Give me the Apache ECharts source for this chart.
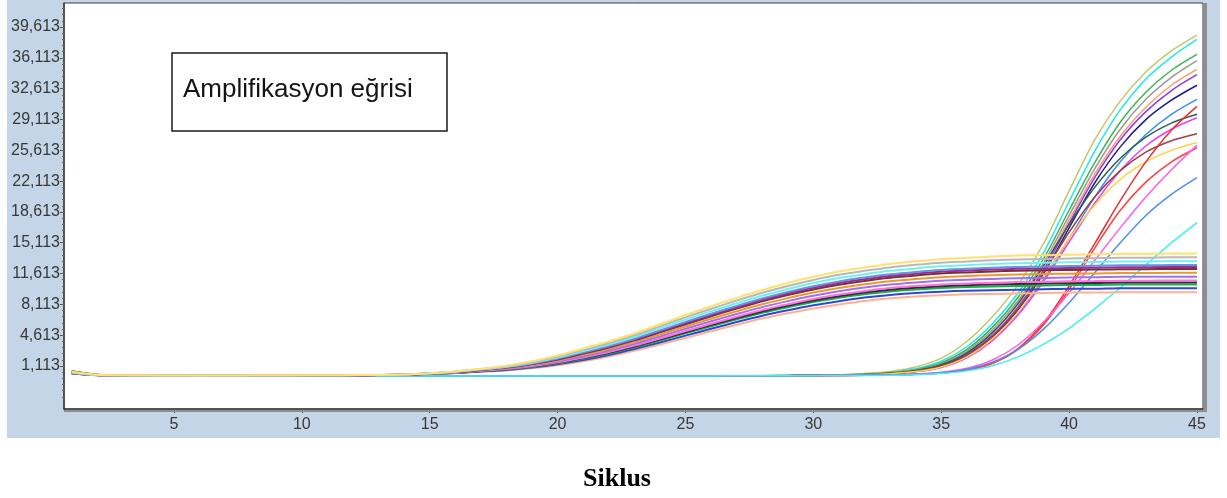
<!DOCTYPE html>
<html>
<head>
<meta charset="utf-8">
<script src="https://cdn.jsdelivr.net/npm/echarts@6/dist/echarts.min.js"></script>
<style>
  html, body { margin: 0; padding: 0; background: #ffffff; }
  #wrap { position: relative; width: 1227px; height: 498px; }
  #panel { position: absolute; left: 7px; top: 0; width: 1213px; height: 438px; background: #c3d5e6; }
  #chart { position: absolute; left: 0; top: 0; width: 1227px; height: 498px; }
</style>
</head>
<body>
<div id="wrap"><div id="panel"></div><div id="chart"></div></div>
<script>
// PCR cycle numbers (x axis)
const cycles = [1,2,3,4,5,6,7,8,9,10,11,12,13,14,15,16,17,18,19,20,21,22,23,24,25,26,27,28,29,30,31,32,33,34,35,36,37,38,39,40,41,42,43,44,45];

// Tick labels
const xTicks = [5,10,15,20,25,30,35,40,45];
const yTicks = [1113,4613,8113,11613,15113,18613,22113,25613,29113,32613,36113,39613];

// Fluorescence, early-rising curves (plateau around 9.5k–13.9k)
const aGold    = [450,110,60,50,40,40,40,50,50,60,70,80,100,150,300,500,800,1150,1650,2300,3100,3900,4800,5850,6900,7900,8850,9750,10550,11250,11850,12300,12700,13000,13250,13400,13550,13650,13700,13750,13800,13850,13850,13900,13900];
const aGrey    = [420,100,50,40,40,30,30,40,40,50,60,80,100,150,290,480,765,1095,1570,2190,2955,3730,4605,5620,6640,7615,8545,9425,10205,10890,11475,11920,12310,12600,12840,12985,13125,13220,13270,13320,13365,13415,13415,13460,13460];
const aCyan    = [380,90,50,40,30,30,30,40,40,50,60,70,90,144,280,460,730,1040,1490,2080,2810,3560,4410,5390,6380,7330,8240,9100,9860,10530,11100,11540,11920,12200,12430,12570,12700,12790,12840,12890,12930,12980,12980,13020,13020];
const aSteel   = [350,90,40,30,30,20,30,30,40,40,50,70,90,141,270,440,695,985,1410,1970,2665,3390,4215,5160,6120,7045,7935,8775,9515,10170,10725,11160,11530,11800,12020,12155,12275,12360,12410,12460,12495,12545,12545,12580,12580];
const aPlum    = [330,80,40,30,20,20,30,30,40,40,50,60,80,140,265,430,678,958,1370,1915,2593,3305,4118,5045,5990,6903,7783,8613,9343,9990,10538,10970,11335,11600,11815,11948,12063,12145,12195,12245,12278,12328,12328,12360,12360];
const aMaroon  = [500,120,60,40,40,30,40,40,50,50,60,80,100,138,260,420,660,930,1330,1860,2520,3220,4020,4930,5860,6760,7630,8450,9170,9810,10350,10780,11140,11400,11610,11740,11850,11930,11980,12030,12060,12110,12110,12140,12140];
const aOrange  = [560,130,60,50,40,40,40,50,50,60,70,80,100,135,250,400,625,875,1250,1750,2375,3050,3825,4700,5600,6475,7325,8125,8825,9450,9975,10400,10750,11000,11200,11325,11425,11500,11550,11600,11625,11675,11675,11700,11700];
const aPurple  = [300,80,40,30,20,20,20,30,30,40,50,60,80,132,240,380,590,820,1170,1640,2230,2880,3630,4470,5340,6190,7020,7800,8480,9090,9600,10020,10360,10600,10790,10910,11000,11070,11120,11170,11190,11240,11240,11260,11260];
const aPink    = [280,70,30,20,20,10,20,20,30,40,50,60,80,129,230,360,555,765,1090,1530,2085,2710,3435,4240,5080,5905,6715,7475,8135,8730,9225,9640,9970,10200,10380,10495,10575,10640,10690,10740,10755,10805,10805,10820,10820];
const aBlack   = [320,80,40,30,20,20,20,30,30,40,50,60,80,128,225,350,538,738,1050,1475,2013,2625,3338,4125,4950,5763,6563,7313,7963,8550,9038,9450,9775,10000,10175,10288,10363,10425,10475,10525,10538,10588,10588,10600,10600];
const aGreen   = [520,120,50,40,30,30,30,40,40,50,60,70,90,126,220,340,520,710,1010,1420,1940,2540,3240,4010,4820,5620,6410,7150,7790,8370,8850,9260,9580,9800,9970,10080,10150,10210,10260,10310,10320,10370,10370,10380,10380];
const aBlue    = [300,70,30,20,10,10,20,20,30,40,50,60,80,123,210,320,485,655,930,1310,1795,2370,3045,3780,4560,5335,6105,6825,7445,8010,8475,8880,9190,9400,9560,9665,9725,9780,9830,9880,9885,9935,9935,9940,9940];
const aSalmon  = [350,90,40,30,20,20,20,30,30,40,50,60,90,120,200,300,450,600,850,1200,1650,2200,2850,3550,4300,5050,5800,6500,7100,7650,8100,8500,8800,9000,9150,9250,9300,9350,9400,9450,9450,9500,9500,9500,9500];

// Fluorescence, late-rising curves (steep rise after cycle 35)
const bOlive     = [380,90,30,10,0,-10,-10,-20,-20,-20,-30,-30,-30,-30,-30,-30,-30,-30,-30,-30,-20,-20,-20,-10,-10,0,10,20,40,70,130,260,500,1000,2000,3900,6700,10300,15000,21000,26800,31200,34500,36900,38700];
const bCyan      = [300,70,20,0,-10,-20,-20,-20,-30,-30,-30,-30,-30,-30,-30,-30,-30,-30,-30,-20,-20,-20,-20,-10,-10,0,10,20,30,60,110,210,400,800,1650,3300,5900,9400,14000,19800,25500,30200,33700,36200,38200];
const bGreen     = [450,100,40,10,0,-10,-20,-20,-20,-20,-30,-30,-30,-30,-30,-30,-30,-30,-30,-20,-20,-20,-20,-20,-10,0,10,20,30,50,100,190,350,700,1450,3000,5500,8900,13300,18800,24200,28800,32200,34700,36500];
const bGrey      = [320,80,30,10,0,-10,-20,-20,-20,-30,-30,-30,-30,-30,-30,-30,-30,-30,-30,-30,-20,-20,-20,-10,-10,0,0,10,30,50,90,170,320,650,1350,2800,5200,8500,12800,18200,23500,28000,31400,33900,35800];
const bSalmon    = [360,80,30,0,-10,-10,-20,-20,-20,-30,-30,-30,-30,-30,-30,-30,-30,-30,-30,-20,-20,-20,-20,-10,-10,0,0,10,20,40,80,160,300,600,1250,2600,4900,8100,12400,17700,22900,27200,30500,33000,34800];
const bViolet    = [280,60,20,0,-10,-20,-20,-20,-30,-30,-30,-30,-30,-30,-30,-30,-30,-30,-30,-30,-20,-20,-20,-20,-10,-10,0,10,20,40,80,150,280,560,1150,2450,4600,7800,12000,17300,22500,26800,30000,32400,34200];
const bNavy      = [260,60,20,0,-10,-20,-20,-30,-30,-30,-30,-30,-30,-30,-30,-30,-30,-30,-30,-30,-30,-20,-20,-20,-10,-10,0,10,20,40,70,140,260,520,1100,2300,4400,7500,11600,16800,21900,26000,29100,31300,33000];
const bDodger    = [340,80,30,10,0,-10,-20,-20,-20,-20,-30,-30,-30,-30,-30,-30,-30,-30,-20,-20,-20,-20,-20,-10,-10,0,0,10,20,40,70,130,240,480,1000,2150,4150,7100,11000,15600,20300,24300,27400,29700,31400];
const bDarkGreen = [400,90,30,10,0,-10,-10,-20,-20,-20,-30,-30,-30,-30,-30,-30,-30,-30,-30,-30,-20,-20,-20,-10,-10,0,0,10,20,40,80,160,300,600,1250,2600,4900,8200,12500,17200,21400,24700,27100,28700,29700];
const bMagenta   = [300,70,20,0,-10,-20,-20,-20,-20,-30,-30,-30,-30,-30,-30,-30,-30,-30,-30,-30,-20,-20,-20,-20,-10,0,0,10,20,30,60,120,230,460,950,2050,4000,6900,10700,15200,19600,23300,26100,28000,29300];
const bBrown     = [330,70,20,0,-10,-10,-20,-20,-20,-30,-30,-30,-30,-30,-30,-30,-30,-30,-30,-20,-20,-20,-20,-10,-10,0,10,10,20,40,70,140,260,520,1100,2300,4450,7600,11700,16300,20300,23300,25400,26700,27500];
const bGold      = [360,80,30,10,0,-10,-20,-20,-20,-20,-30,-30,-30,-30,-30,-30,-30,-30,-30,-30,-20,-20,-20,-10,-10,0,0,10,20,40,70,130,240,480,1000,2150,4200,7200,11200,15600,19400,22300,24300,25600,26500];
const bRed1      = [270,60,10,0,-10,-20,-20,-20,-30,-30,-30,-30,-30,-30,-30,-30,-30,-30,-30,-30,-30,-30,-20,-20,-20,-10,-10,0,10,20,40,70,100,170,320,680,1450,3100,6000,10200,15000,19900,24300,27900,30600];
const bRed2      = [300,60,20,0,-10,-20,-20,-20,-20,-30,-30,-30,-30,-30,-30,-30,-30,-30,-30,-30,-30,-20,-20,-20,-20,-10,-10,0,10,20,40,60,110,180,320,650,1400,3000,5800,9800,14500,18800,22000,24300,25900];
const bPink      = [250,50,10,0,-10,-20,-20,-20,-30,-30,-30,-30,-30,-30,-30,-30,-30,-30,-30,-30,-20,-20,-20,-20,-10,-10,0,0,10,20,40,60,100,200,400,850,1800,3500,6100,9400,13100,16800,20300,23400,26200];
const bSky       = [280,60,20,0,-10,-20,-20,-20,-20,-30,-30,-30,-30,-30,-30,-30,-30,-30,-30,-30,-20,-20,-20,-20,-10,-10,0,0,10,20,30,50,80,170,350,750,1550,3000,5300,8300,11700,15100,18200,20600,22500];
const bAqua      = [260,50,10,0,-10,-20,-20,-20,-30,-30,-30,-30,-30,-30,-30,-30,-30,-30,-30,-30,-20,-20,-20,-20,-10,-10,0,0,10,20,30,40,60,130,270,560,1150,2150,3600,5400,7600,10000,12600,15100,17400];

const lateCurves = [
  ['b-olive', bOlive, '#c5c56a'],
  ['b-cyan', bCyan, '#1ee6f0'],
  ['b-green', bGreen, '#3cb44b'],
  ['b-grey', bGrey, '#9a9a9a'],
  ['b-salmon', bSalmon, '#ff9a6a'],
  ['b-violet', bViolet, '#8a3cf0'],
  ['b-navy', bNavy, '#1c1c8c'],
  ['b-dodger', bDodger, '#3d8ef5'],
  ['b-darkgreen', bDarkGreen, '#2f5f45'],
  ['b-magenta', bMagenta, '#f03cf0'],
  ['b-brown', bBrown, '#9c4040'],
  ['b-gold', bGold, '#ffd23c'],
  ['b-red1', bRed1, '#e83030'],
  ['b-red2', bRed2, '#ff4040'],
  ['b-pink', bPink, '#ff5cf0'],
  ['b-sky', bSky, '#4a90f0'],
  ['b-aqua', bAqua, '#3cf0f5']
];
const earlyCurves = [
  ['a-salmon', aSalmon, '#ffb090'],
  ['a-blue', aBlue, '#3048d0'],
  ['a-green', aGreen, '#14b050'],
  ['a-black', aBlack, '#303030'],
  ['a-pink', aPink, '#ff70e0'],
  ['a-purple', aPurple, '#a070f0'],
  ['a-orange', aOrange, '#e89a30'],
  ['a-maroon', aMaroon, '#7a3030'],
  ['a-plum', aPlum, '#a02890'],
  ['a-steel', aSteel, '#6a90e0'],
  ['a-cyan', aCyan, '#70f0f0'],
  ['a-grey', aGrey, '#b8b8b8'],
  ['a-gold', aGold, '#ffe070']
];

const yMin = -3770, yMax = 42340;
const xMin = 0.699, xMax = 45.235;

// minor ticks: five subdivisions per labelled step
const yMinor = [];
for (let t = yTicks[0] - 3500; t <= yMax; t += 700) { if (t >= yMin) yMinor.push(t); }

const fmt = v => String(v).replace(/\B(?=(\d{3})+(?!\d))/g, ',');

function makeSeries(list, width, z) {
  return list.map(([name, vals, color]) => ({
    name: name,
    type: 'line',
    data: cycles.map((c, i) => [c, vals[i]]),
    showSymbol: false,
    symbol: 'none',
    smooth: 0.3,
    z: z,
    lineStyle: { color: color, width: width },
    itemStyle: { color: color },
    emphasis: { disabled: true },
    silent: true
  }));
}

const axisFont = { fontSize: 16, color: '#383838', fontFamily: 'Liberation Sans' };

const chart = echarts.init(document.getElementById('chart'), null, { renderer: 'canvas' });
chart.setOption({
  animation: false,
  backgroundColor: 'transparent',
  grid: {
    left: 64, top: 3, width: 1139, height: 406,
    show: true, backgroundColor: '#ffffff', borderColor: '#3c3c3c', borderWidth: 1
  },
  xAxis: {
    type: 'value', min: xMin, max: xMax,
    axisLine: { show: true, onZero: false, lineStyle: { color: '#3c3c3c', width: 1.5 } },
    axisTick: { show: true, customValues: xTicks, length: 4, lineStyle: { color: '#555' } },
    axisLabel: Object.assign({ customValues: xTicks, margin: 8 }, axisFont),
    splitLine: { show: false }
  },
  yAxis: [
    {
      type: 'value', min: yMin, max: yMax,
      axisLine: { show: true, onZero: false, lineStyle: { color: '#3c3c3c', width: 1.5 } },
      axisTick: { show: true, customValues: yTicks, length: 4, lineStyle: { color: '#555' } },
      axisLabel: Object.assign({ customValues: yTicks, margin: 4, formatter: v => fmt(v) }, axisFont),
      splitLine: { show: false }
    },
    {
      type: 'value', min: yMin, max: yMax, position: 'left',
      axisLine: { show: false },
      axisTick: { show: true, customValues: yMinor, length: 2, lineStyle: { color: '#666' } },
      axisLabel: { show: false },
      splitLine: { show: false }
    }
  ],
  graphic: [
    { type: 'rect', z: 50, shape: { x: 1204, y: 3, width: 3, height: 409 }, style: { fill: '#8e8e8e' } },
    { type: 'rect', z: 50, shape: { x: 64, y: 410, width: 1143, height: 2 }, style: { fill: '#8e8e8e' } },
    { type: 'rect', z: 60, shape: { x: 172, y: 53, width: 275, height: 78 }, style: { fill: '#ffffff', stroke: '#1a1a1a', lineWidth: 1.5 } },
    { type: 'text', z: 61, x: 183, y: 90, style: { text: 'Amplifikasyon eğrisi', fontSize: 26, fontFamily: 'Liberation Sans', fill: '#141414', verticalAlign: 'middle' } },
    { type: 'text', z: 61, x: 617, y: 479, style: { text: 'Siklus', fontSize: 26, fontWeight: 'bold', fontFamily: 'Liberation Serif', fill: '#000', align: 'center', verticalAlign: 'middle' } }
  ],
  series: makeSeries(lateCurves, 1.5, 2).concat(makeSeries(earlyCurves, 2, 3))
});
</script>
</body>
</html>
